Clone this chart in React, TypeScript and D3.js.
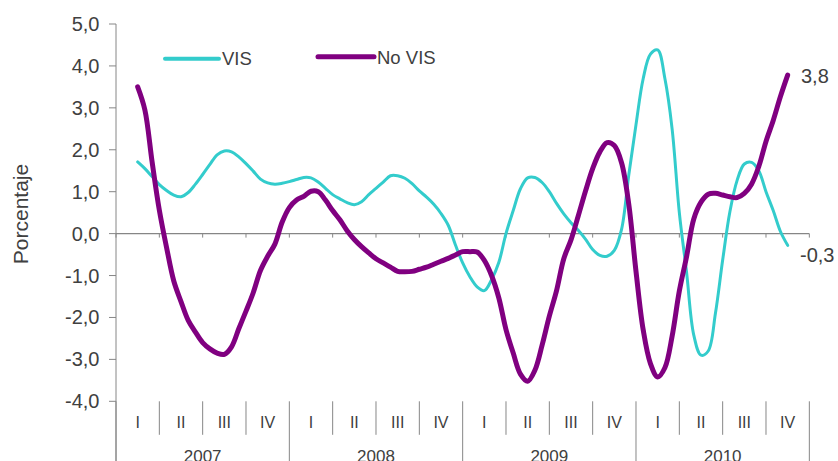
import React from "react";
import * as d3 from "d3";

// Series sampled every half month, from mid-February 2007 to mid-November 2010
const visValues = [
  1.71, 1.55, 1.36, 1.17, 1.03, 0.92, 0.88, 0.98, 1.18, 1.41,
  1.65, 1.88, 1.97, 1.95, 1.83, 1.67, 1.49, 1.30, 1.21, 1.18,
  1.20, 1.24, 1.29, 1.34, 1.33, 1.23, 1.08, 0.93, 0.83, 0.74,
  0.69, 0.76, 0.93, 1.08, 1.23, 1.38, 1.38, 1.32, 1.19, 1.02,
  0.87, 0.70, 0.48, 0.20, -0.27, -0.70, -1.03, -1.27, -1.36, -1.10,
  -0.69, 0.0, 0.55, 1.07, 1.33, 1.34, 1.22, 1.0, 0.72, 0.47,
  0.26, 0.08, -0.13, -0.38, -0.52, -0.54, -0.40, 0.1, 1.4, 2.6,
  3.7, 4.28, 4.38, 3.7, 2.5, 0.5, -0.92, -2.42, -2.9, -2.8,
  -1.9, -0.63, 0.52, 1.27, 1.66, 1.70, 1.50, 1.0, 0.55, 0.05,
  -0.28,
];

const noVisValues = [
  3.5, 2.95, 1.71, 0.56, -0.33, -1.13, -1.62, -2.07, -2.35, -2.60,
  -2.75, -2.85, -2.88, -2.70, -2.27, -1.85, -1.41, -0.88, -0.54, -0.25,
  0.27, 0.62, 0.80, 0.89, 1.01, 1.0, 0.80, 0.55, 0.33, 0.07,
  -0.14, -0.31, -0.46, -0.60, -0.70, -0.80, -0.90, -0.91, -0.90, -0.85,
  -0.80, -0.73, -0.66, -0.59, -0.51, -0.43, -0.43, -0.44, -0.64, -1.0,
  -1.53, -2.29, -2.85, -3.35, -3.52, -3.26, -2.66, -1.97, -1.36, -0.60,
  -0.15, 0.42, 1.01, 1.55, 1.95, 2.17, 2.1, 1.69, 0.7, -0.9,
  -2.30, -3.1, -3.42, -3.2, -2.45, -1.37, -0.55, 0.35, 0.75, 0.94,
  0.96, 0.92, 0.88, 0.86, 0.96, 1.18, 1.60, 2.20, 2.70, 3.27,
  3.78,
];

const firstMonth = 1.5; // months since Jan 2007
const monthStep = 0.5;

const quarterLabels = ["I", "II", "III", "IV"];
const years = ["2007", "2008", "2009", "2010"];
const yTicks = [5, 4, 3, 2, 1, 0, -1, -2, -3, -4];

const seriesNames = ["VIS", "No VIS"];
const lastVis = "-0,3";
const lastNoVis = "3,8";

const TEAL = "#33CCCC";
const PURPLE = "#800080";
const AXIS = "#868686";
const TEXT = "#404040";
const FONT = "'Liberation Sans', Arial, sans-serif";

export default function App() {
  const W = 838;
  const H = 461;
  const left = 116;
  const right = 809.33;
  const y = d3.scaleLinear().domain([-4, 5]).range([401.3, 24]);
  const x = d3.scaleLinear().domain([0, 48]).range([left, right]);
  const line = d3
    .line<number>()
    .x((_, i) => x(firstMonth + i * monthStep))
    .y((d) => y(d))
    .curve(d3.curveCatmullRom.alpha(0.5));

  const fmt = (v: number) => v.toFixed(1).replace(".", ",");
  const quarters = d3.range(17);
  const y0 = y(0);
  const yBottom = y(-4);

  return (
    <svg
      width={W}
      height={H}
      style={{ position: "absolute", left: 0, top: 0, background: "#fff" }}
      fontFamily={FONT}
    >
      {/* y axis */}
      <line x1={left} x2={left} y1={y(5)} y2={H} stroke={AXIS} strokeWidth={1} />
      {yTicks.map((t) => (
        <g key={t}>
          <line x1={left - 7} x2={left} y1={y(t)} y2={y(t)} stroke={AXIS} />
          <text
            x={99.5}
            y={y(t)}
            textAnchor="end"
            dominantBaseline="central"
            fontSize={20}
            fill={TEXT}
          >
            {fmt(t)}
          </text>
        </g>
      ))}
      <text
        transform={`translate(28,214) rotate(-90)`}
        textAnchor="middle"
        fontSize={21}
        fill={TEXT}
      >
        Porcentaje
      </text>

      {/* zero line */}
      <line x1={left} x2={right} y1={y0} y2={y0} stroke={AXIS} strokeWidth={1.2} />
      {quarters.map((q) => (
        <line
          key={"zt" + q}
          x1={x(q * 3)}
          x2={x(q * 3)}
          y1={y0}
          y2={y0 + 4}
          stroke={AXIS}
        />
      ))}

      {/* category axis */}
      {quarters.map((q) => (
        <line
          key={"qs" + q}
          x1={x(q * 3)}
          x2={x(q * 3)}
          y1={yBottom}
          y2={q % 4 === 0 ? H : yBottom + 33.5}
          stroke={AXIS}
        />
      ))}
      {years.map((yr, yi) =>
        quarterLabels.map((ql, qi) => (
          <text
            key={yr + ql}
            x={x((yi * 4 + qi) * 3 + 1.5)}
            y={427.5}
            textAnchor="middle"
            fontSize={16}
            fill={TEXT}
          >
            {ql}
          </text>
        ))
      )}
      {years.map((yr, yi) => (
        <text
          key={yr}
          x={x(yi * 12 + 6)}
          y={462}
          textAnchor="middle"
          fontSize={17}
          fill={TEXT}
        >
          {yr}
        </text>
      ))}

      {/* series */}
      <path d={line(visValues) || ""} fill="none" stroke={TEAL} strokeWidth={3} strokeLinejoin="round" strokeLinecap="round" />
      <path d={line(noVisValues) || ""} fill="none" stroke={PURPLE} strokeWidth={5} strokeLinejoin="round" strokeLinecap="round" />

      {/* end labels */}
      <text x={801} y={y(noVisValues[noVisValues.length - 1]) + 1} dominantBaseline="central" fontSize={20} fill={TEXT}>
        {lastNoVis}
      </text>
      <text x={800} y={255} dominantBaseline="central" fontSize={20} fill={TEXT}>
        {lastVis}
      </text>

      {/* legend */}
      <line x1={165} x2={219} y1={58.7} y2={58.7} stroke={TEAL} strokeWidth={4} strokeLinecap="round" />
      <text x={222} y={58.7} dominantBaseline="central" fontSize={18.5} fill={TEXT}>
        {seriesNames[0]}
      </text>
      <line x1={318} x2={374} y1={56.7} y2={56.7} stroke={PURPLE} strokeWidth={5} strokeLinecap="round" />
      <text x={377} y={57.5} dominantBaseline="central" fontSize={18.5} fill={TEXT}>
        {seriesNames[1]}
      </text>
    </svg>
  );
}
